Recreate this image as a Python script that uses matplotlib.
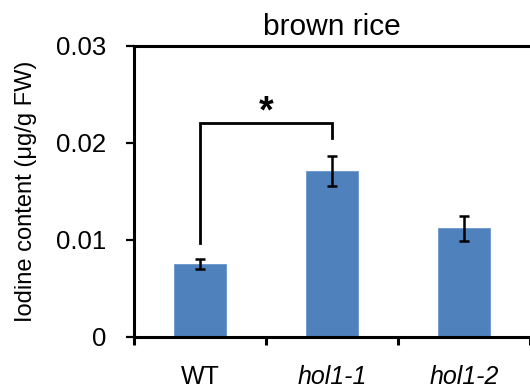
import matplotlib
matplotlib.use("Agg")
import matplotlib.pyplot as plt
from matplotlib.ticker import FixedLocator

plt.rcParams['font.family'] = ['Liberation Sans', 'DejaVu Sans']

categories = ["WT", "hol1-1", "hol1-2"]
values = [0.00753, 0.01711, 0.01120]
errors = [0.0005, 0.00155, 0.0013]
yticks = [0, 0.01, 0.02, 0.03]
ytick_labels = ["0", "0.01", "0.02", "0.03"]
sig_pair = (0, 1)
sig_top = 0.0221
sig_left_bottom = 0.00972
sig_right_bottom = 0.0205
sig_label = "*"

fig = plt.figure(figsize=(5.30, 3.91), dpi=100)
ax = fig.add_axes([134/530, 1 - 337/391, 1 - 134/530, (337-46)/391])

x = list(range(len(categories)))
ax.bar(x, values, width=0.4, color="#4F81BD", edgecolor="#6A96CC", linewidth=0.6, zorder=2)
ax.errorbar(x, values, yerr=errors, fmt="none", ecolor="black", elinewidth=1.8,
            capsize=3.5, capthick=1.8, zorder=3)

ax.set_xlim(-0.5, 2.5)
ax.set_ylim(0, 0.03)
ax.set_yticks(yticks)
ax.set_yticklabels(ytick_labels, fontsize=18.5)
ax.set_xticks(x)
ax.set_xticklabels(categories, fontsize=18)
for lbl in ax.get_xticklabels()[1:]:
    lbl.set_style("italic")
ax.xaxis.set_minor_locator(FixedLocator([-0.5, 0.5, 1.5, 2.5]))
ax.tick_params(axis="x", which="major", length=0, pad=20)
ax.tick_params(axis="x", which="minor", length=6, width=2.2, direction="out")
ax.tick_params(axis="y", which="major", length=6, width=1.6, direction="out", pad=14)

for side in ["left", "bottom", "top"]:
    ax.spines[side].set_linewidth(2.2)
ax.spines["right"].set_visible(False)

ax.set_ylabel("Iodine content (μg/g FW)", fontsize=17, labelpad=14)
ax.set_title("brown rice", fontsize=21.5, pad=8)

# significance bracket
a, b = sig_pair
ax.plot([a, a, b, b], [sig_left_bottom, sig_top, sig_top, sig_right_bottom],
        color="black", linewidth=2.0, solid_joinstyle="miter", zorder=4, clip_on=False)
ax.text((a + b) / 2, sig_top - 0.0008, sig_label, ha="center", va="bottom",
        fontsize=27, fontweight="bold")

fig.savefig("out.png", dpi=100)
